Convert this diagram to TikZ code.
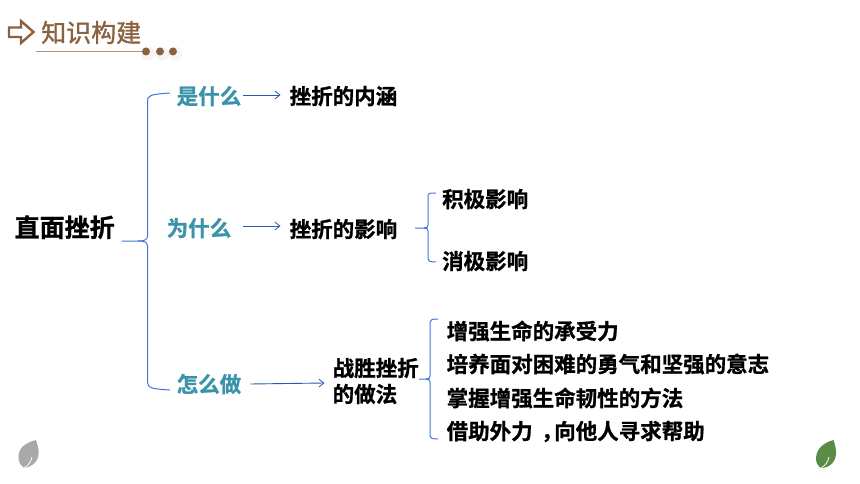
\documentclass[tikz,border=0pt]{standalone}
\usepackage{fontspec}
\setmainfont[BoldFont={Noto Sans CJK SC Bold},BoldFeatures={FakeBold=1}]{Noto Sans CJK SC}
\newfontfamily\titlefont[FakeBold=1.2]{Noto Sans CJK SC}
\usetikzlibrary{arrows.meta}
\definecolor{brownc}{HTML}{8A6240}
\definecolor{tealc}{HTML}{3A93AB}
\definecolor{bracec}{HTML}{3E74DC}
\definecolor{arrowc}{HTML}{2F54B4}
\definecolor{leafg}{HTML}{A9A9A9}
\definecolor{leafb}{HTML}{5B8C46}
\tikzset{
  txt/.style={inner sep=0pt,font=\fontsize{21.5pt}{28pt}\selectfont\bfseries,text=black,anchor=west,text height=18pt,text depth=3.5pt},
  teal/.style={txt,text=tealc},
  bracel/.style={draw=bracec,line width=1pt,line join=round},
  arr/.style={draw=arrowc,line width=0.9pt,-{Straight Barb[length=5pt,width=8pt,line width=0.8pt]}},
  dot/.style={circle,fill=brownc,inner sep=0pt,minimum size=8pt}
}
\begin{document}
\begin{tikzpicture}[x=1pt,y=-1pt]
\useasboundingbox (0,0) rectangle (860,484);
% title
\draw[brownc,line width=2.4pt,line join=miter]
  (9,27.5) -- (21,27.5) -- (21,21) -- (33.5,32) -- (21,43) -- (21,37) -- (9,37) -- cycle;
\node[inner sep=0pt,anchor=west,text=brownc,font=\fontsize{25pt}{30pt}\selectfont\titlefont] (title) at (41,32.5) {知识构建};
\foreach \x in {147,161,174}{\fill[black,opacity=0.04] (\x+1,53.5) circle (7pt);}
\coordinate (ruleL) at (36,51.5);
\node[dot] (d1) at (146,51.5) {};
\node[dot] (d2) at (160,51.5) {};
\node[dot] (d3) at (173,51.5) {};
\draw[brownc!70,line width=0.8pt] (ruleL) -- (d1);
% nodes
\node[txt,font=\fontsize{25pt}{30pt}\selectfont\bfseries] (root) at (14.5,229.5) {直面挫折};
\node[teal] (q1) at (176.5,97) {是什么};
\node[teal] (q2) at (166.5,229) {为什么};
\node[teal] (q3) at (176.5,385) {怎么做};
\node[txt] (a1) at (289.5,97) {挫折的内涵};
\node[txt] (a2) at (289.5,230) {挫折的影响};
\node[inner sep=0pt,anchor=west,align=left,font=\fontsize{21.5pt}{26pt}\selectfont\bfseries] (a3) at (332.5,381) {战胜挫折\\的做法};
\node[txt] (p1) at (442,200) {积极影响};
\node[txt] (p2) at (442,262) {消极影响};
\node[txt] (r1) at (446.5,332) {增强生命的承受力};
\node[txt] (r2) at (446.5,365) {培养面对困难的勇气和坚强的意志};
\node[txt] (r3) at (446.5,399) {掌握增强生命韧性的方法};
\node[txt] (r4) at (446.5,432) {借助外力\kern8.5pt ，\kern-8.5pt 向他人寻求帮助};
% arrows (xshift/yshift act on the canvas: positive yshift is upward)
\draw[arr] ([xshift=2pt,yshift=2pt]q1.east) -- ([xshift=-9pt,yshift=2pt]a1.west);
\draw[arr] ([xshift=12pt,yshift=3pt]q2.east) -- ([xshift=-9pt,yshift=4pt]a2.west);
\draw[arr] ([xshift=9pt,yshift=1pt]q3.east) -- ([xshift=-8pt,yshift=-2pt]a3.west);
% braces
\coordinate (b1in) at (121.5,241);
\draw[bracel] (b1in) -- (138,241)
  .. controls (144,241) and (147.5,240) .. (147.5,236) -- (147.5,102)
  .. controls (147.5,95) and (150,94.5) .. (170,93);
\draw[bracel] (138,241)
  .. controls (144,241) and (147.5,242) .. (147.5,246) -- (147.5,382)
  .. controls (147.5,388) and (152,389) .. (170,390);
\coordinate (b2in) at (415,228);
\draw[bracel] (b2in) -- (424,228)
  .. controls (427,228) and (428,227) .. (428,225) -- (428,196)
  .. controls (428,193) and (430,193) .. (436,193);
\draw[bracel] (424,228)
  .. controls (427,228) and (428,229) .. (428,231) -- (428,259)
  .. controls (428,261) and (430,262) .. (436,262);
\coordinate (b3in) at (419,379);
\draw[bracel] (b3in) -- (426,379)
  .. controls (429,379) and (430,378) .. (430,376) -- (430,322)
  .. controls (430,320) and (432,319) .. (438,319);
\draw[bracel] (426,379)
  .. controls (429,379) and (430,380) .. (430,382) -- (430,436)
  .. controls (430,438) and (432,439) .. (438,439);
% leaves
\fill[leafg] (36,440) .. controls (25,443) and (18,448) .. (18.5,458)
  .. controls (19,463) and (21,466) .. (24,468)
  .. controls (33,467) and (40,460) .. (38.5,450)
  .. controls (38,446) and (37,443) .. (36,440) -- cycle;
\draw[white,line width=0.8pt] (32,457) .. controls (31,462) and (28,466) .. (24,468);
\fill[leafb] (833.5,440) .. controls (823,443) and (816,449) .. (816,459)
  .. controls (816,463) and (818,466) .. (821,468)
  .. controls (830,468) and (837,461) .. (836,451)
  .. controls (835.5,446) and (834.5,443) .. (833.5,440) -- cycle;
\draw[white,line width=0.8pt] (829,457) .. controls (828,462) and (825,466) .. (821,468);
\end{tikzpicture}
\end{document}
